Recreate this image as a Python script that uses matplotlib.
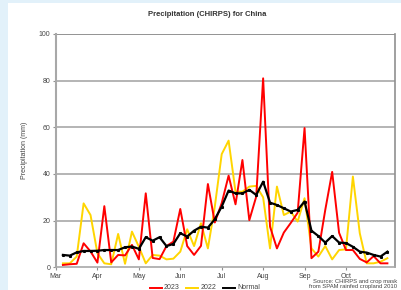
import numpy as np
import matplotlib
matplotlib.use("Agg")
import matplotlib.pyplot as plt
from matplotlib.patches import Rectangle

plt.rcParams['font.family'] = ['Liberation Sans', 'DejaVu Sans']

# pentad rainfall (mm), Mar 1 - Oct 31 (48 pentads)
rain_2023 = [1.0, 1.3, 1.5, 10.3, 6.8, 2.0, 26.2, 2.1, 5.3, 5.1, 9.6, 3.4,
             31.7, 4.0, 3.5, 9.1, 11.0, 25.0, 9.1, 5.3, 9.2, 35.7, 19.2, 27.5,
             39.3, 27.0, 46.0, 20.2, 30.3, 81.0, 17.4, 8.1, 14.9, 19.0, 23.4, 59.7,
             3.9, 6.7, 24.6, 40.9, 14.8, 7.4, 7.4, 3.6, 2.1, 4.8, 1.7, 1.7]
rain_2022 = [1.7, 1.7, 4.6, 27.4, 22.4, 6.0, 1.7, 1.3, 14.3, 1.5, 15.3, 8.8,
             1.7, 5.3, 5.0, 3.4, 3.7, 6.7, 16.3, 9.1, 18.9, 8.1, 26.0, 48.5,
             54.3, 32.4, 32.4, 34.6, 34.9, 30.0, 8.1, 34.6, 22.4, 23.9, 19.6, 29.6,
             8.1, 4.6, 9.1, 3.4, 7.4, 7.7, 38.9, 14.6, 1.7, 1.7, 2.4, 3.9]
rain_normal = [5.3, 5.0, 6.4, 7.0, 7.0, 7.1, 7.4, 7.4, 7.4, 8.6, 8.9, 7.9,
               12.9, 11.4, 12.9, 9.1, 10.0, 14.6, 13.2, 15.7, 17.4, 17.0, 20.6, 26.0,
               32.9, 31.7, 31.7, 33.2, 31.0, 36.7, 27.7, 26.7, 25.3, 23.9, 24.6, 28.2,
               15.7, 13.4, 10.6, 13.4, 10.6, 10.4, 8.8, 6.7, 6.3, 5.3, 4.6, 6.7]
month_labels = ['Mar', 'Apr', 'May', 'Jun', 'Jul', 'Aug', 'Sep', 'Oct']

pentads = np.arange(1, len(rain_2023) + 1)

fig = plt.figure(figsize=(4.02, 2.90), dpi=100)
fig.patch.set_facecolor('#e2f1fa')
fig.patches.append(Rectangle((8 / 402, 0), 1, 287 / 290, transform=fig.transFigure,
                             facecolor='white', edgecolor='none', zorder=-10))

ax = fig.add_axes([56 / 402, 22.7 / 290, 339 / 402, 233.3 / 290])
ax.set_facecolor('white')

grid_c = '#a8a8a8'
for v in range(20, 101, 20):
    ax.axhline(v, color=grid_c if v < 100 else '#808080', lw=1.2, zorder=1)

ax.plot(pentads, rain_2023, color='#ff0000', lw=1.4, zorder=3)
ax.plot(pentads, rain_2022, color='#ffd500', lw=1.4, zorder=2)
ax.plot(pentads, rain_normal, color='black', lw=1.6, marker='s', ms=1.2, zorder=4)

ax.set_xlim(0, 49.1)
ax.set_ylim(0, 100)
ax.set_xticks(np.arange(0, 48, 6))
ax.set_xticklabels(month_labels)
ax.set_yticks(range(0, 101, 20))

ax.spines['top'].set_visible(False)
ax.spines['left'].set_color('#a8a8a8')
ax.spines['left'].set_linewidth(1.5)
ax.spines['right'].set_color('#909090')
ax.spines['right'].set_linewidth(1.2)
ax.spines['bottom'].set_color('#a8a8a8')
ax.spines['bottom'].set_linewidth(1.2)

ax.tick_params(axis='both', labelsize=5, colors='#909090', labelcolor='#444444',
               length=2.5, width=0.8, pad=1.5)

ax.set_ylabel('Precipitation (mm)', fontsize=5, color='#444444', labelpad=8)
fig.text(207 / 402, 1 - 15 / 290, 'Precipitation (CHIRPS) for China',
         ha='center', va='center', fontsize=5.5, fontweight='bold', color='#333333')

# legend along the bottom
ly = 1 - 287.5 / 290
items = [(150, 162, 164, '2023', '#ff0000'),
         (186, 198, 201, '2022', '#ffd500'),
         (223, 235, 237, 'Normal', 'black')]
for x0, x1, xt, lab, c in items:
    fig.add_artist(plt.Line2D([x0 / 402, x1 / 402], [ly, ly], color=c, lw=1.4,
                              transform=fig.transFigure))
    fig.text(xt / 402, ly, lab, ha='left', va='center', fontsize=5, color='#444444')

fig.text(397 / 402, 1 - 284 / 290,
         'Source: CHIRPS and crop mask\nfrom SPAM rainfed cropland 2010',
         ha='right', va='center', fontsize=4.2, color='#444444', linespacing=1.1)

fig.savefig('out.png', dpi=100, facecolor=fig.get_facecolor())
